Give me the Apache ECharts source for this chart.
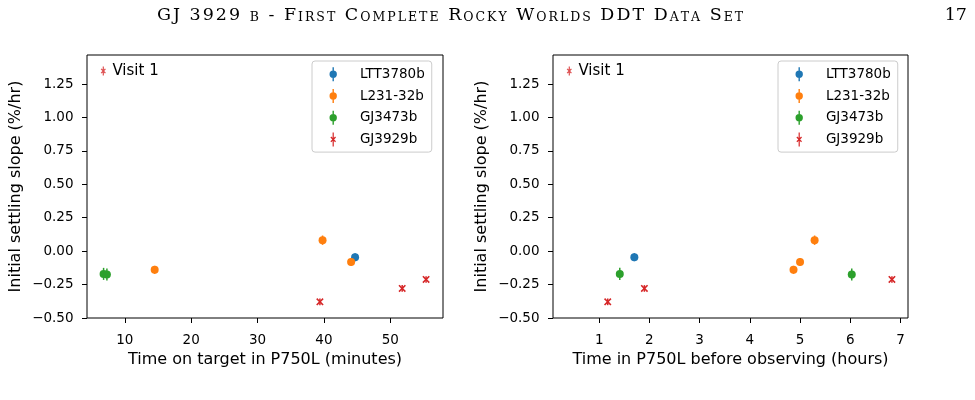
<!DOCTYPE html>
<html>
<head>
<meta charset="utf-8">
<script src="https://cdn.jsdelivr.net/npm/echarts@6/dist/echarts.min.js"></script>
<style>
  html, body { margin: 0; padding: 0; background: #fff; }
  #chart { width: 975px; height: 400px; }
</style>
</head>
<body>
<div id="chart"></div>
<script>
// values
const planets = ['LTT3780b', 'L231-32b', 'GJ3473b', 'GJ3929b']
const colors = ['#1f77b4', '#ff7f0e', '#2ca02c', '#d62728']

// time on target in P750L (minutes)
const minutes = [
  [44.7],
  [14.5, 39.8, 44.1],
  [6.8, 7.3],
  [39.4, 51.8, 55.4]
]
// time in P750L before observing (hours)
const hours = [
  [1.70],
  [4.87, 5.29, 5.00],
  [1.41, 6.03],
  [1.17, 1.90, 6.83]
]
// initial settling slope (%/hr) and its error
const slopes = [
  [-0.045],
  [-0.140, 0.082, -0.082],
  [-0.170, -0.174],
  [-0.379, -0.279, -0.212]
]
const errors = [
  [0.03],
  [0.03, 0.035, 0.03],
  [0.045, 0.045],
  [0.025, 0.025, 0.025]
]

const yTicks = [-0.5, -0.25, 0, 0.25, 0.5, 0.75, 1, 1.25]
const minuteTicks = [10, 20, 30, 40, 50]
const hourTicks = [1, 2, 3, 4, 5, 6, 7]

const pageTitle = 'GJ 3929 b - First Complete Rocky Worlds DDT Data Set'
const pageNumber = '17'

const font = 'DejaVu Sans'

// marker shapes (matplotlib-ish), all sub-paths wound clockwise
const xMarker = 'path://M0,1.5L1.5,0L5,3.5L8.5,0L10,1.5L6.5,5L10,8.5L8.5,10L5,6.5L1.5,10L0,8.5L3.5,5Z'
const dotIcon = 'path://M3.3,0H4.7V14H3.3Z M0.3,7A3.7,3.7 0 1,1 7.7,7A3.7,3.7 0 1,1 0.3,7Z'
const starIcon = 'path://M0.3,7L0.3,7 M7.7,7L7.7,7 M3.4,0H4.6V14H3.4Z M1.2,5.1L2.1,4.2L4,6.1L5.9,4.2L6.8,5.1L4.9,7L6.8,8.9L5.9,9.8L4,7.9L2.1,9.8L1.2,8.9L3.1,7Z'
const visitIcon = 'path://M2.4,0H3.6V9H2.4Z M0.4,2.8L1.3,1.9L3,3.6L4.7,1.9L5.6,2.8L3.9,4.5L5.6,6.2L4.7,7.1L3,5.4L1.3,7.1L0.4,6.2L2.1,4.5Z'

// fake small caps: lowercase letters become smaller capitals, one token per char for spacing
function smallCaps(str) {
  let out = ''
  for (const ch of str) {
    const small = ch >= 'a' && ch <= 'z'
    out += '{' + (small ? 's' : 'b') + '|' + (small ? ch.toUpperCase() : ch) + '}'
  }
  return out
}

const tickFmt = v => (Math.abs(v) < 1e-9 ? '0.00' : v.toFixed(2)).replace('-', '\u2212')

function xAxis(idx, min, max, ticks, name) {
  return {
    type: 'value', gridIndex: idx, min: min, max: max,
    name: name, nameLocation: 'middle', nameGap: 34,
    nameTextStyle: { fontFamily: font, fontSize: 16, color: '#000' },
    axisLine: { show: false, onZero: false },
    splitLine: { show: false },
    axisTick: { show: true, length: 5, lineStyle: { color: '#000', width: 1 }, customValues: ticks },
    axisLabel: { fontFamily: font, fontSize: 13.5, color: '#000', margin: 15, customValues: ticks }
  }
}

function yAxis(idx) {
  return {
    type: 'value', gridIndex: idx, min: -0.5, max: 1.467,
    name: 'Initial settling slope (%/hr)', nameLocation: 'middle', nameGap: 63,
    nameTextStyle: { fontFamily: font, fontSize: 16, color: '#000' },
    axisLine: { show: false, onZero: false },
    splitLine: { show: false },
    axisTick: { show: true, length: 5, lineStyle: { color: '#000', width: 1 }, customValues: yTicks },
    axisLabel: { fontFamily: font, fontSize: 13.5, color: '#000', margin: 13.5, customValues: yTicks, formatter: tickFmt }
  }
}

function errorSeries(p, xs, idx) {
  return {
    type: 'custom', name: planets[p], xAxisIndex: idx, yAxisIndex: idx, z: 1, silent: true,
    data: xs[p].map((x, i) => [x, slopes[p][i] - errors[p][i], slopes[p][i] + errors[p][i]]),
    encode: { x: 0, y: [1, 2] },
    renderItem: function (params, api) {
      const lo = api.coord([api.value(0), api.value(1)])
      const hi = api.coord([api.value(0), api.value(2)])
      return {
        type: 'line',
        shape: { x1: lo[0], y1: lo[1], x2: hi[0], y2: hi[1] },
        style: { stroke: colors[p], lineWidth: 1.5 }
      }
    }
  }
}

function pointSeries(p, xs, idx) {
  return {
    type: 'scatter', name: planets[p], xAxisIndex: idx, yAxisIndex: idx, z: 2, silent: true,
    data: xs[p].map((x, i) => [x, slopes[p][i]]),
    symbol: p === 3 ? xMarker : 'circle',
    symbolSize: p === 3 ? 7.5 : 8,
    itemStyle: { color: colors[p], opacity: 1 }
  }
}

function planetLegend(left) {
  return {
    left: left, top: 61, orient: 'vertical', selectedMode: false,
    itemWidth: 7.4, itemHeight: 14, itemGap: 7.7,
    padding: [6.3, 7, 5.7, 17.5],
    backgroundColor: 'rgba(255,255,255,0.8)', borderColor: '#cccccc', borderWidth: 1, borderRadius: 3,
    textStyle: { fontFamily: font, fontSize: 13.5, color: '#000', lineHeight: 14, padding: [0, 0, 0, 18] },
    data: planets.map((n, p) => ({ name: n, icon: p === 3 ? starIcon : dotIcon, itemStyle: { color: colors[p] } }))
  }
}

function visitLegend(left) {
  return {
    left: left, top: 63.5, orient: 'vertical', selectedMode: false,
    itemWidth: 5.2, itemHeight: 9, padding: 0,
    textStyle: { fontFamily: font, fontSize: 15, color: '#000', lineHeight: 15, padding: [0, 0, 0, 1.5] },
    data: [{ name: 'Visit 1', icon: visitIcon, itemStyle: { color: colors[3] } }]
  }
}

const chart = echarts.init(document.getElementById('chart'), null, { renderer: 'canvas' })

const series = []
for (let p = 0; p < planets.length; p++) {
  series.push(errorSeries(p, minutes, 0), pointSeries(p, minutes, 0))
  series.push(errorSeries(p, hours, 1), pointSeries(p, hours, 1))
}
series.push({ type: 'scatter', name: 'Visit 1', data: [], xAxisIndex: 0, yAxisIndex: 0 })

const serif = { fontFamily: 'DejaVu Serif', fontWeight: 'normal', color: '#000' }

chart.setOption({
  animation: false,
  backgroundColor: '#fff',
  title: [
    {
      text: smallCaps(pageTitle), left: 156, top: 4, padding: 0,
      textStyle: {
        fontWeight: 'normal',
        rich: {
          b: Object.assign({ fontSize: 17.5, lineHeight: 20, verticalAlign: 'bottom', padding: [0, 1, 0, 1] }, serif),
          s: Object.assign({ fontSize: 12.5, lineHeight: 17, verticalAlign: 'bottom', padding: [0, 1, 0, 1] }, serif)
        }
      }
    },
    {
      text: pageNumber, right: 8, top: 6, padding: 0,
      textStyle: Object.assign({ fontSize: 17.5 }, serif)
    }
  ],
  grid: [
    { left: 87, top: 55, width: 356, height: 263, show: true, borderColor: '#000', borderWidth: 1, backgroundColor: 'transparent' },
    { left: 553, top: 55, width: 355, height: 263, show: true, borderColor: '#000', borderWidth: 1, backgroundColor: 'transparent' }
  ],
  xAxis: [
    xAxis(0, 4.3, 57.95, minuteTicks, 'Time on target in P750L (minutes)'),
    xAxis(1, 0.08, 7.15, hourTicks, 'Time in P750L before observing (hours)')
  ],
  yAxis: [yAxis(0), yAxis(1)],
  legend: [planetLegend(312), planetLegend(778), visitLegend(100.7), visitLegend(566.7)],
  series: series
})

window.addEventListener('resize', () => chart.resize())
</script>
</body>
</html>
